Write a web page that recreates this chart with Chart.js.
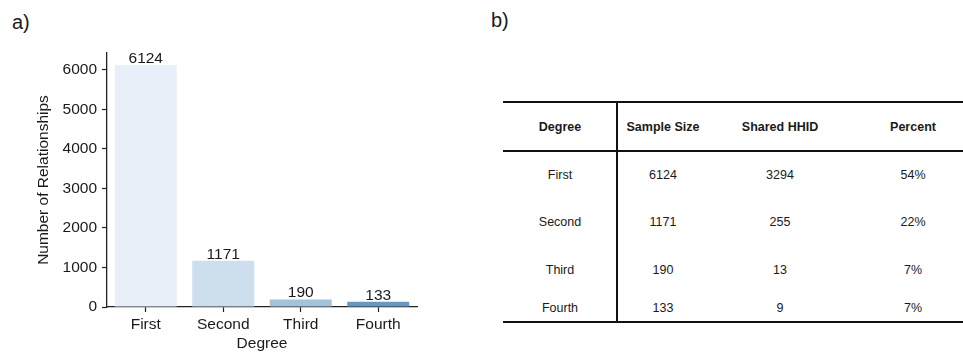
<!DOCTYPE html>
<html>
<head>
<meta charset="utf-8">
<script src="https://cdn.jsdelivr.net/npm/chart.js@4/dist/chart.umd.min.js"></script>
<style>
  html, body { margin: 0; padding: 0; background: #ffffff; }
  body { width: 963px; height: 353px; position: relative; overflow: hidden;
         font-family: "Liberation Sans", Arial, sans-serif; color: #1a1a1a; }
  #barCanvas { position: absolute; left: 0; top: 0; }
  .panel-tag { position: absolute; font-size: 20px; line-height: 20px; color: #1a1a1a; }
  .rule { position: absolute; background: #111; }
  .cell { position: absolute; font-size: 12.5px; line-height: 14px; transform: translate(-50%, -50%);
          white-space: nowrap; color: #1a1a1a; }
  .cell.head { font-weight: bold; }
</style>
</head>
<body>
<div class="panel-tag" style="left:12px; top:12px;">a)</div>
<div class="panel-tag" style="left:491px; top:10px;">b)</div>
<canvas id="barCanvas" width="480" height="353"></canvas>
<div id="summaryTable"></div>
<script>
// Relationship counts by degree
const degrees = ['First', 'Second', 'Third', 'Fourth'];
const relationshipCounts = [6124, 1171, 190, 133];
const yTickValues = [0, 1000, 2000, 3000, 4000, 5000, 6000];

// Summary table columns
const tableHeaders = ['Degree', 'Sample Size', 'Shared HHID', 'Percent'];
const sampleSizes = [6124, 1171, 190, 133];
const sharedHHID = [3294, 255, 13, 9];
const percentShared = ['54%', '22%', '7%', '7%'];

// Styling
const barColors = ['#e8eff8', '#cddeed', '#a3c3da', '#6897bf'];
const inkColor = '#1a1a1a';
const fontFamily = '"Liberation Sans", Arial, sans-serif';
const fontSize = 15.5;

// Value labels above each bar
const barValueLabels = {
  id: 'barValueLabels',
  afterDatasetsDraw(chart) {
    const ctx = chart.ctx;
    const meta = chart.getDatasetMeta(0);
    ctx.save();
    ctx.fillStyle = inkColor;
    ctx.font = fontSize + 'px ' + fontFamily;
    ctx.textAlign = 'center';
    ctx.textBaseline = 'alphabetic';
    meta.data.forEach((bar, i) => {
      ctx.fillText(String(chart.data.datasets[0].data[i]), bar.x, bar.y - 2);
    });
    ctx.restore();
  }
};

new Chart(document.getElementById('barCanvas'), {
  type: 'bar',
  data: {
    labels: degrees,
    datasets: [{
      data: relationshipCounts,
      backgroundColor: barColors,
      borderWidth: 0,
      barPercentage: 0.8,
      categoryPercentage: 1.0
    }]
  },
  options: {
    responsive: false,
    animation: false,
    devicePixelRatio: 1,
    layout: { padding: { top: 53, right: 63, left: 0, bottom: 0 } },
    plugins: { legend: { display: false }, tooltip: { enabled: false } },
    scales: {
      x: {
        type: 'category',
        offset: true,
        grid: { display: true, offset: false, drawOnChartArea: false, drawTicks: true, tickLength: 5, tickColor: '#222', tickWidth: 1.2 },
        border: { display: true, color: '#222', width: 1.3 },
        ticks: { color: inkColor, font: { family: fontFamily, size: fontSize }, padding: 3, maxRotation: 0 },
        title: { display: true, text: 'Degree', color: inkColor,
                 font: { family: fontFamily, size: fontSize }, padding: { top: 0, bottom: 0 } },
        afterFit(scale) { scale.height = 46; }
      },
      y: {
        min: 0,
        max: 6124 * 1.05,
        grid: { display: true, drawOnChartArea: false, drawTicks: true, tickLength: 5, tickColor: '#222', tickWidth: 1.2 },
        border: { display: true, color: '#222', width: 1.3 },
        ticks: { color: inkColor, font: { family: fontFamily, size: fontSize }, padding: 5,
                 callback: v => String(v) },
        afterBuildTicks(scale) { scale.ticks = yTickValues.map(v => ({ value: v })); },
        title: { display: true, text: 'Number of Relationships', color: inkColor,
                 font: { family: fontFamily, size: fontSize }, padding: { top: 34, bottom: 0 } },
        afterFit(scale) { scale.width = 107; }
      }
    }
  },
  plugins: [barValueLabels]
});

// Summary table (b)
(function buildTable() {
  const host = document.getElementById('summaryTable');
  const colX = [560, 663, 780, 913];
  const headY = 127;
  const rowY = [175, 222, 270, 308];
  const rules = [
    { left: 503, top: 101, width: 460, height: 2 },
    { left: 503, top: 150, width: 460, height: 2 },
    { left: 503, top: 321, width: 460, height: 2 },
    { left: 616, top: 101, width: 2, height: 222 }
  ];
  rules.forEach(r => {
    const d = document.createElement('div');
    d.className = 'rule';
    Object.assign(d.style, { left: r.left + 'px', top: r.top + 'px', width: r.width + 'px', height: r.height + 'px' });
    host.appendChild(d);
  });
  const addCell = (text, x, y, head) => {
    const d = document.createElement('div');
    d.className = head ? 'cell head' : 'cell';
    d.textContent = text;
    d.style.left = x + 'px';
    d.style.top = y + 'px';
    host.appendChild(d);
  };
  tableHeaders.forEach((h, c) => addCell(h, colX[c], headY, true));
  degrees.forEach((deg, r) => {
    const row = [deg, sampleSizes[r], sharedHHID[r], percentShared[r]];
    row.forEach((v, c) => addCell(String(v), colX[c], rowY[r], false));
  });
})();
</script>
</body>
</html>
